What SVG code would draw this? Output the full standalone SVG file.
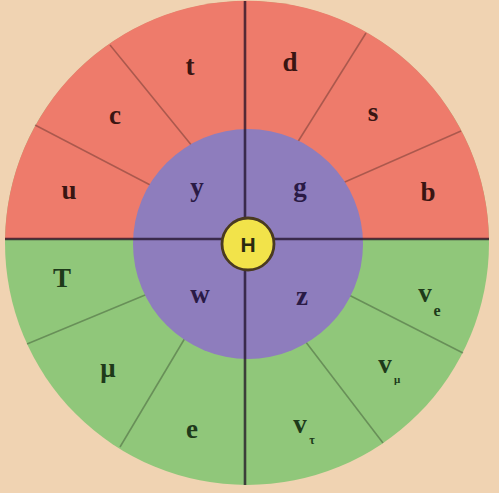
<svg xmlns="http://www.w3.org/2000/svg" width="499" height="493" viewBox="0 0 499 493">
<style>
.lbl{font-family:"Liberation Serif","Times New Roman",serif;font-weight:bold;font-size:27px;text-anchor:middle}
.red{fill:#3a1512}
.pur{fill:#2a1a45}
.grn{fill:#1e3a1a}
.sub{font-family:"Liberation Serif","Times New Roman",serif;font-weight:bold;text-anchor:middle;fill:#1e3a1a}
.spoke{stroke:#000;stroke-opacity:0.28;stroke-width:1.6;fill:none}
.cross{stroke:#1a0a20;stroke-opacity:0.72;stroke-width:2.6;fill:none}
</style>
<rect width="499" height="493" fill="#F0D3B2"/>
<g id="outer-ring">
<circle cx="247" cy="243" r="242" fill="#90C77A"/>
<path d="M5.03,239 A242,242 0 0 1 488.97,239 Z" fill="#EE7B6B"/>
</g>
<g id="connectors">
<line class="spoke" x1="35" y1="125" x2="156" y2="188"/>
<line class="spoke" x1="110" y1="45" x2="197" y2="152"/>
<line class="spoke" x1="366" y1="33" x2="294" y2="148"/>
<line class="spoke" x1="461" y1="131" x2="338" y2="185"/>
<line class="spoke" x1="463" y1="353" x2="343" y2="292"/>
<line class="spoke" x1="383" y1="443" x2="302" y2="337"/>
<line class="spoke" x1="27" y1="344" x2="150" y2="293"/>
<line class="spoke" x1="120" y1="447" x2="188" y2="333"/>
</g>
<g id="boson-ring">
<circle cx="248" cy="244" r="115" fill="#8E7DBD"/>
</g>
<g id="axes">
<line class="cross" x1="245" y1="1" x2="245" y2="485"/>
<line class="cross" x1="5" y1="239" x2="489" y2="239"/>
</g>
<g id="higgs">
<circle cx="248" cy="244" r="26" fill="#F2E34A" stroke="#4a3a20" stroke-width="2.8"/>
<text x="248" y="252" font-family="Liberation Sans,Arial,sans-serif" font-weight="bold" font-size="21" text-anchor="middle" fill="#2a2a10">H</text>
</g>
<g id="quark-t"><text class="lbl red" x="190" y="75">t</text></g>
<g id="quark-c"><text class="lbl red" x="115" y="124">c</text></g>
<g id="quark-u"><text class="lbl red" x="69" y="199">u</text></g>
<g id="quark-d"><text class="lbl red" x="290" y="71">d</text></g>
<g id="quark-s"><text class="lbl red" x="373" y="121">s</text></g>
<g id="quark-b"><text class="lbl red" x="428" y="201">b</text></g>
<g id="boson-y"><text class="lbl pur" x="197" y="196">y</text></g>
<g id="boson-g"><text class="lbl pur" x="300" y="196">g</text></g>
<g id="boson-w"><text class="lbl pur" x="200" y="303">w</text></g>
<g id="boson-z"><text class="lbl pur" x="302" y="305">z</text></g>
<g id="lepton-T"><text class="lbl grn" x="62" y="287">T</text></g>
<g id="lepton-mu"><text class="lbl grn" x="108" y="377">μ</text></g>
<g id="lepton-e"><text class="lbl grn" x="192" y="438">e</text></g>
<g id="lepton-ve"><text class="lbl grn" x="425" y="302">v</text><text class="sub" x="437" y="316" font-size="16">e</text></g>
<g id="lepton-vmu"><text class="lbl grn" x="385" y="373">v</text><text class="sub" x="397" y="383" font-size="11">μ</text></g>
<g id="lepton-vtau"><text class="lbl grn" x="300" y="433">v</text><text class="sub" x="312" y="444" font-size="12">τ</text></g>
</svg>
